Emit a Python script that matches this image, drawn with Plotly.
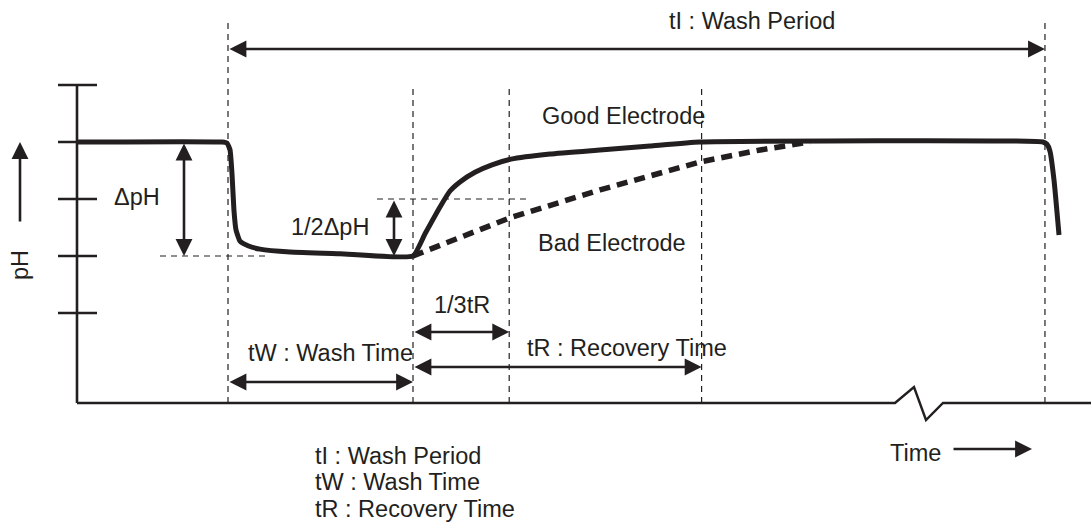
import plotly.graph_objects as go

# ---- schematic data (time in arbitrary units, pH in arbitrary units) ----
WASH_START = 0.0        # start of the wash
WASH_TIME = 10.0        # tW
RECOVERY_TIME = 15.6    # tR
WASH_PERIOD = 44.16     # tI
PH_HIGH = 4.0
PH_LOW = 2.0
PH_TICKS = [1, 2, 3, 4, 5]

# drop during wash, then good-electrode recovery and next wash
good_t = [-8.16, -0.32, -0.05, 0.11, 0.22, 0.32, 0.43, 0.65, 1.08, 1.73, 3.35, 6.05, 10.0,
          10.65, 11.46, 12.0, 12.54, 13.35, 14.27, 15.3, 17.41, 20.11, 22.81, 25.51,
          44.05, 44.27, 44.43, 44.65, 44.92]
good_ph = [4.0, 4.0, 3.98, 3.86, 3.42, 2.81, 2.46, 2.26, 2.18, 2.12, 2.07, 2.04, 2.0,
           2.39, 2.86, 3.14, 3.30, 3.47, 3.60, 3.70, 3.79, 3.86, 3.93, 4.0,
           4.0, 3.96, 3.84, 3.33, 2.37]

# slow recovery of a bad electrode
bad_t = [10.0, 15.24, 20.11, 25.51, 28.76, 31.46]
bad_ph = [2.0, 2.67, 3.16, 3.65, 3.86, 4.0]

# ---- page geometry (pixels) ----
W, H = 1091, 523
T0_PX, PX_PER_T = 228, 18.5
PH0_PX, PX_PER_PH = 370, 57


def tx(px):
    return (px - T0_PX) / PX_PER_T


def py(px):
    return (PH0_PX - px) / PX_PER_PH


INK = "#231f20"
FONT = dict(family="Liberation Sans, Arial, sans-serif", size=23.5, color=INK)

fig = go.Figure()

# axes: vertical pH axis with ticks, time axis with a break
axis_t = tx(77)
fig.add_trace(go.Scatter(x=[axis_t, axis_t], y=[PH_TICKS[-1], py(403)], mode="lines",
                         line=dict(color=INK, width=2.6), hoverinfo="skip"))
for v in PH_TICKS:
    fig.add_trace(go.Scatter(x=[tx(58), tx(97)], y=[v, v], mode="lines",
                             line=dict(color=INK, width=2.6), hoverinfo="skip"))
fig.add_trace(go.Scatter(
    x=[axis_t, tx(895), tx(914), tx(926), tx(943), tx(W)],
    y=[py(403), py(403), py(387), py(420), py(403), py(403)],
    mode="lines", line=dict(color=INK, width=2.4), hoverinfo="skip"))

# dashed guide lines
guide = dict(color=INK, width=1.2, dash="6px,5px")
t_wash_end = WASH_START + WASH_TIME
t_third = t_wash_end + RECOVERY_TIME / 3
t_rec_end = t_wash_end + RECOVERY_TIME
t_period_end = WASH_START + WASH_PERIOD
for t, top in [(WASH_START, py(22)), (t_wash_end, py(88)), (t_third, py(88)),
               (t_rec_end, py(88)), (t_period_end, py(22))]:
    fig.add_shape(type="line", x0=t, x1=t, y0=py(403), y1=top, line=guide, layer="below")
half_ph = (PH_HIGH + PH_LOW) / 2
fig.add_shape(type="line", x0=tx(160), x1=tx(265), y0=PH_LOW, y1=PH_LOW, line=guide, layer="below")
fig.add_shape(type="line", x0=tx(377), x1=tx(528), y0=half_ph, y1=half_ph, line=guide, layer="below")

# response curves
fig.add_trace(go.Scatter(x=bad_t, y=bad_ph, mode="lines",
                         line=dict(color=INK, width=5.5, dash="11px,7px"), hoverinfo="skip"))
fig.add_trace(go.Scatter(x=good_t, y=good_ph, mode="lines",
                         line=dict(color=INK, width=5, shape="spline", smoothing=0.4),
                         hoverinfo="skip"))


def arrow(x0, y0, x1, y1, both=True):
    fig.add_annotation(x=x1, y=y1, ax=x0, ay=y0, xref="x", yref="y", axref="x", ayref="y",
                       text="", showarrow=True, arrowhead=2, startarrowhead=2,
                       arrowside="end+start" if both else "end",
                       arrowwidth=2.6, arrowsize=1.3, startarrowsize=1.3, arrowcolor=INK)


arrow(WASH_START, py(49), t_period_end, py(49))              # tI
arrow(tx(184), PH_HIGH, tx(184), PH_LOW)                    # ΔpH
arrow(tx(394), half_ph, tx(394), PH_LOW)                    # 1/2ΔpH
arrow(WASH_START, py(382), t_wash_end, py(382))             # tW
arrow(t_wash_end, py(332), t_third, py(332))                # 1/3 tR
arrow(t_wash_end, py(367), t_rec_end, py(367))              # tR
arrow(tx(20), py(223), tx(20), py(142), both=False)         # pH direction
arrow(tx(952), py(449), tx(1032), py(449), both=False)      # time direction


def label(px, pyy, text, anchor="center", angle=0):
    fig.add_annotation(x=tx(px), y=py(pyy), xref="x", yref="y", text=text, showarrow=False,
                       xanchor=anchor, yanchor="middle", font=FONT, textangle=angle)


label(752, 21, "tI : Wash Period")
label(623, 116, "Good Electrode")
label(612, 243, "Bad Electrode")
label(137, 197, "ΔpH")
label(330, 227, "1/2ΔpH")
label(462, 305, "1/3tR")
label(330, 353, "tW : Wash Time")
label(627, 348, "tR : Recovery Time")
label(20, 265, "pH", angle=-90)
label(915, 453, "Time")
label(313, 456, "tI : Wash Period", anchor="left")
label(313, 482, "tW : Wash Time", anchor="left")
label(313, 509, "tR : Recovery Time", anchor="left")

fig.update_layout(
    width=W, height=H, margin=dict(l=0, r=0, t=0, b=0),
    paper_bgcolor="white", plot_bgcolor="white", showlegend=False,
    xaxis=dict(range=[tx(0), tx(W)], visible=False, fixedrange=True),
    yaxis=dict(range=[py(H), py(0)], visible=False, fixedrange=True),
)

fig.write_html("out.html")
